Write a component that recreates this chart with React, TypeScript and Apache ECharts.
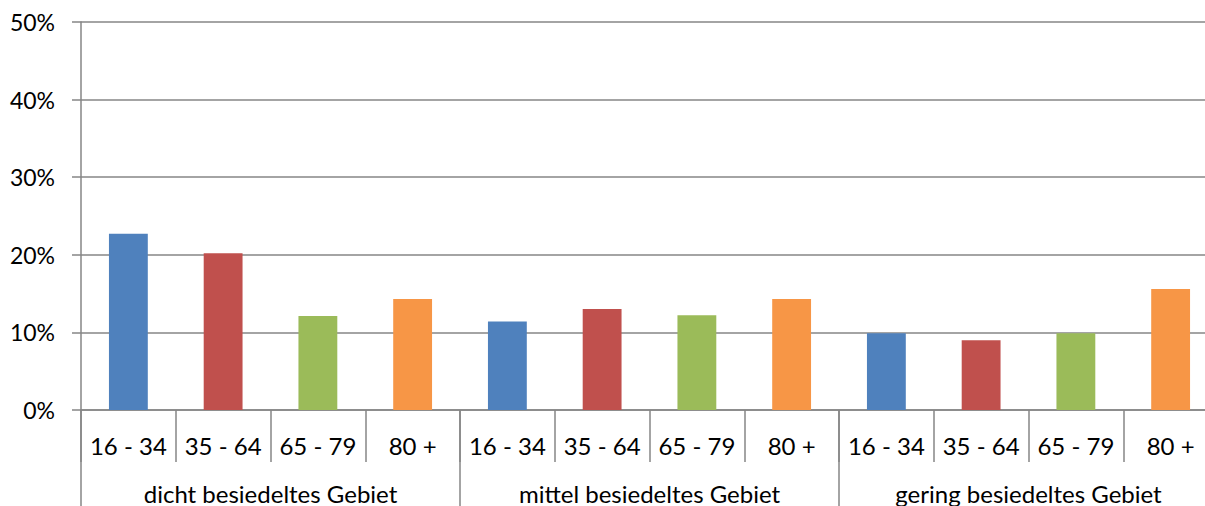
import React, { useEffect, useRef } from "react";
import * as echarts from "echarts";

const ageGroups = ["16 - 34", "35 - 64", "65 - 79", "80 +"];
const areas = ["dicht besiedeltes Gebiet", "mittel besiedeltes Gebiet", "gering besiedeltes Gebiet"];
const dichtValues = [22.7, 20.2, 12.1, 14.3];
const mittelValues = [11.4, 13.0, 12.2, 14.3];
const geringValues = [9.9, 9.0, 9.9, 15.6];
const yTicks = [0, 10, 20, 30, 40, 50];
const ageColors = ["#4F81BD", "#C0504D", "#9BBB59", "#F79646"];

export default function App() {
  const ref = useRef<HTMLDivElement>(null);
  useEffect(() => {
    if (!ref.current) return;
    const chart = echarts.init(ref.current, null, { renderer: "svg" });
    const allValues = [dichtValues, mittelValues, geringValues];
    const categories: string[] = [];
    const data: any[] = [];
    allValues.forEach((vals) => {
      vals.forEach((v, i) => {
        categories.push(ageGroups[i]);
        data.push({ value: v, itemStyle: { color: ageColors[i] } });
      });
    });
    const font = "Lato, 'Open Sans', sans-serif";
    const gray = "#868686";
    chart.setOption({
      animation: false,
      grid: { left: 81, top: 22, bottom: 96, right: 12, containLabel: false },
      xAxis: [
        {
          type: "category",
          data: categories,
          position: "bottom",
          axisLine: { show: true, lineStyle: { color: gray, width: 1.5 } },
          axisTick: { show: true, length: 52, interval: 0, lineStyle: { color: gray, width: 1.5 } },
          axisLabel: { interval: 0, margin: 23, fontSize: 24, fontFamily: font, color: "#000" },
        },
        {
          type: "category",
          data: areas,
          position: "bottom",
          axisLine: { show: false },
          axisTick: { show: true, length: 96, interval: 0, lineStyle: { color: gray, width: 1.5 } },
          axisLabel: { interval: 0, margin: 71, fontSize: 24, fontFamily: font, color: "#000" },
        },
      ],
      yAxis: {
        type: "value",
        min: yTicks[0],
        max: yTicks[yTicks.length - 1],
        interval: 10,
        axisLine: { show: true, lineStyle: { color: gray, width: 1.5 } },
        axisTick: { show: true, length: 9, lineStyle: { color: gray, width: 1.5 } },
        splitLine: { show: true, lineStyle: { color: gray, width: 1.5 } },
        axisLabel: { formatter: "{value}%", margin: 26, fontSize: 23, fontFamily: font, color: "#000" },
      },
      series: [
        {
          type: "bar",
          xAxisIndex: 0,
          data,
          barWidth: "41%",
        },
      ],
    });
    return () => chart.dispose();
  }, []);
  return (
    <div style={{ width: 1205, height: 506, position: "absolute", left: 0, top: 0, overflow: "hidden" }}>
      <div ref={ref} style={{ width: 1230, height: 506 }} />
    </div>
  );
}
